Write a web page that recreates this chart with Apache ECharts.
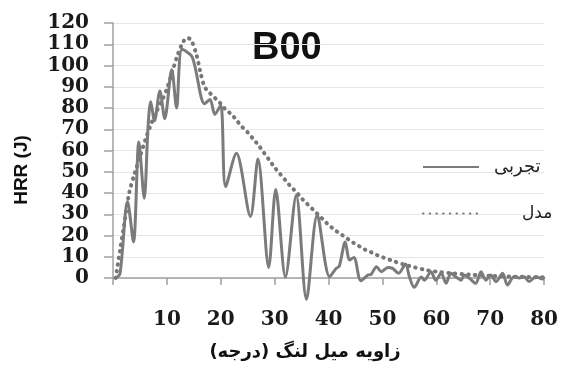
<!DOCTYPE html>
<html><head><meta charset="utf-8">
<script src="https://cdn.jsdelivr.net/npm/echarts@6/dist/echarts.min.js"></script>
<style>html,body{margin:0;padding:0;background:#fff}#c{width:561px;height:365px}</style>
</head><body><div id="c"></div><script>
const xTicks = [0, 10, 20, 30, 40, 50, 60, 70, 80];
const yTicks = [0, 10, 20, 30, 40, 50, 60, 70, 80, 90, 100, 110, 120];
const seriesNames = ['تجربی', 'مدل'];
const titleText = 'B00';
const yName = 'HRR (J)';
const xName = 'زاویه میل لنگ (درجه)';

const experimental = [
  [0.5,0],[1.3,2],[2.7,36],[3.8,17],[4.8,64],[5.8,37.5],[6.5,71],[7.0,83],[7.7,74],[8.7,88],
  [9.6,75],[10.9,98],[11.8,80],[12.8,107.6],[14.7,104],[17.0,82],[18,84],[18.9,77],[20.0,81.4],
  [20.9,43],[22.9,58.7],[25.5,29],[26.9,56],[28.9,5],[30.2,41.7],[32.0,0.5],[34.0,39],[35.9,-10],
  [37.9,29.6],[40.2,0.6],[41.4,4.5],[42.0,5.6],[43.1,17],[43.9,8.5],[44.7,9.7],[46.0,-1.3],
  [47.3,1.4],[47.9,1.7],[48.9,5.3],[49.8,3],[51.0,5],[51.9,4.5],[53.0,2.2],[54.3,6.6],[55.0,0.6],
  [55.9,-4.4],[57.2,0.5],[57.8,-1],[59.0,3],[59.9,-1],[60.9,2.2],[61.8,-2.5],[62.7,2.2],[63.6,0.6],
  [64.6,-1],[65.2,1.4],[66.1,0],[67.3,-2.5],[68.3,3],[69.2,-1],[70.1,1.4],[71.1,-1.7],[72.3,2.2],
  [73.2,-3.3],[74.4,0.6],[75.4,0],[76.3,0.6],[77.2,-1.7],[78.5,0.6],[79.7,-0.5],[80,0.6]
];
const model = [
  [0.5,0],[1.3,13],[2,24],[3,40],[4,49],[5,57],[6,65],[7,72],[8,78],[9,83],[10,89],[11,97],
  [12,105],[13,111],[13.7,113],[14.5,112],[15.5,105],[16.3,96],[17,90],[18,87],[19,84.5],[20,82],
  [21,79],[22,77],[23,74],[24,71],[25,68.5],[26,65.5],[27,62.5],[28,59],[29,55.5],[30,52],[31,49],
  [32,46],[33,43],[34,40.5],[35,37.5],[36,35],[37,32.5],[38,30],[39,27.5],[40,25],[41,23],[42,21],
  [43,19.5],[44,17.5],[45,16],[46,14.5],[47,13],[48,12],[49,10.8],[50,9.8],[52,8],[54,6.3],[56,5],
  [58,3.8],[60,3],[63,2.2],[66,1.6],[70,1],[75,0.6],[80,0.3]
];

const chart = echarts.init(document.getElementById('c'));
const lineColor = '#7b7b7b';
const lblFont = 'DejaVu Serif';
const legendBase = {orient: 'vertical', padding: 0, itemHeight: 14, itemStyle: {opacity: 0}};
chart.setOption({
  animation: false,
  backgroundColor: '#fff',
  grid: {left: 113, right: 16, top: 23, bottom: 87, containLabel: false},
  xAxis: {
    type: 'value', min: xTicks[0], max: xTicks[xTicks.length - 1], interval: 10,
    axisLine: {show: true, lineStyle: {color: '#a0a0a0', width: 1.5}},
    axisTick: {show: true, length: 7, lineStyle: {color: '#a0a0a0', width: 1.5}},
    splitLine: {show: false},
    axisLabel: {margin: 32, color: '#1a1a1a', fontFamily: lblFont, fontWeight: 'bold', fontSize: 20,
      formatter: v => v === 0 ? '' : String(v)}
  },
  yAxis: {
    type: 'value', min: yTicks[0], max: yTicks[yTicks.length - 1], interval: 10,
    axisLine: {show: true, lineStyle: {color: '#a0a0a0', width: 1.5}},
    axisTick: {show: true, length: 9, lineStyle: {color: '#a0a0a0', width: 1.5}},
    splitLine: {show: true, lineStyle: {color: '#e6e6e6', width: 1}},
    axisLabel: {margin: 24, color: '#1a1a1a', fontFamily: lblFont, fontWeight: 'bold', fontSize: 20}
  },
  legend: [
    Object.assign({data: [seriesNames[0]], left: 422, top: 158, itemWidth: 56,
      textStyle: {fontFamily: 'DejaVu Sans', fontSize: 18, color: '#222', padding: [0, 0, 0, 10]}}, legendBase),
    Object.assign({data: [seriesNames[1]], left: 422, top: 205, itemWidth: 58,
      textStyle: {fontFamily: 'DejaVu Sans', fontSize: 17, color: '#222', padding: [0, 0, 0, 36]}}, legendBase)
  ],
  series: [
    {name: seriesNames[0], type: 'line', data: experimental, smooth: 0.3, symbol: 'none', clip: false,
      lineStyle: {color: lineColor, width: 3}, itemStyle: {color: lineColor}, z: 3},
    {name: seriesNames[1], type: 'line', data: model, smooth: 0.3, symbol: 'none', clip: false,
      lineStyle: {color: '#777', width: 4, type: [0.5, 6.2], cap: 'round'}, itemStyle: {color: '#777'}, z: 2}
  ],
  graphic: [
    {type: 'text', left: 252, top: 30, style: {text: titleText, font: 'bold 38px "Liberation Sans", Arial', fill: '#111'}},
    {type: 'text', x: 22, y: 170, rotation: Math.PI / 2,
      style: {text: yName, font: 'bold 19px "Liberation Sans", Arial', fill: '#111', align: 'center', verticalAlign: 'middle'}},
    {type: 'text', x: 305, y: 352,
      style: {text: '\u202B' + xName + '\u202C', font: 'bold 18px "DejaVu Sans"', fill: '#111', align: 'center', verticalAlign: 'middle'}}
  ]
});
</script></body></html>
